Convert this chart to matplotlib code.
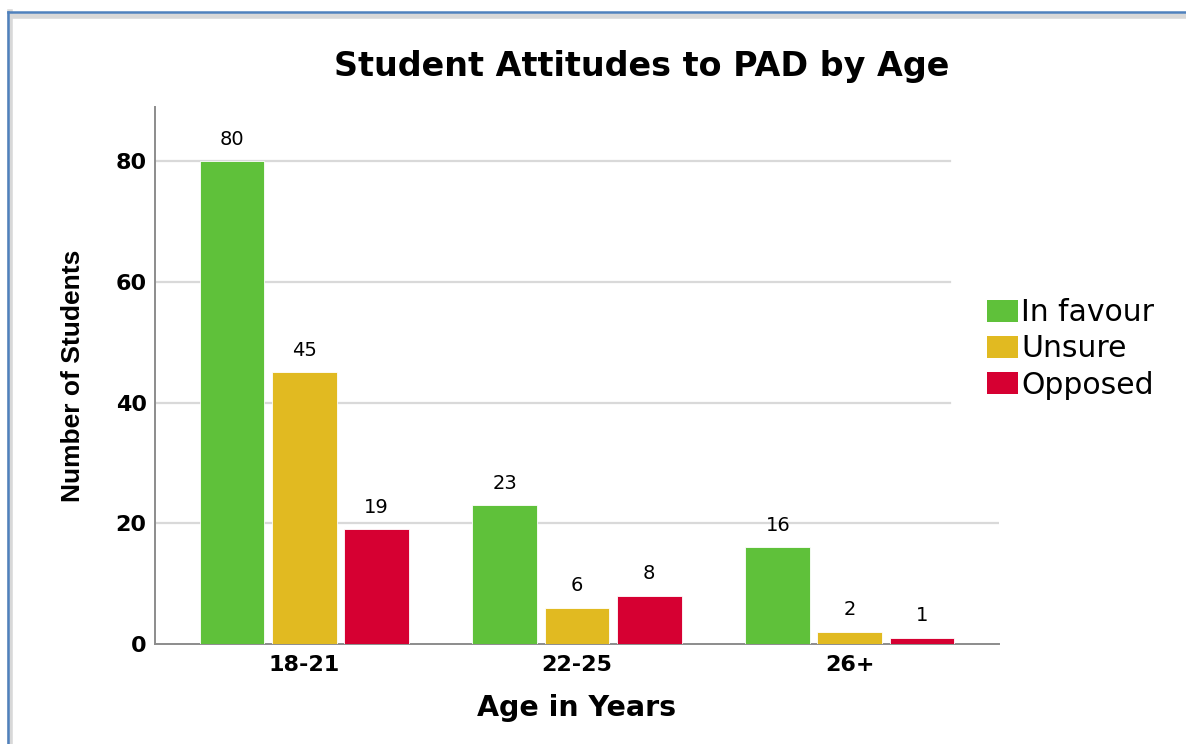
import matplotlib.pyplot as plt
import numpy as np
from matplotlib.lines import Line2D
from matplotlib.patches import Patch
from matplotlib.font_manager import FontProperties

# the screenshot is stretched sideways, DejaVu's wider glyphs get closer to it
plt.rcParams['font.family'] = ['DejaVu Sans']

# data
age_groups = ['18-21', '22-25', '26+']
in_favour = [80, 23, 16]
unsure = [45, 6, 2]
opposed = [19, 8, 1]
series_names = ['In favour', 'Unsure', 'Opposed']
colors = ['#5FC13A', '#E1BA21', '#D60032']

fig = plt.figure(figsize=(11.86, 7.44), dpi=100)
ax = fig.add_axes([0.1307, 0.1344, 0.7116, 0.7218])

x = np.arange(len(age_groups))
width = 0.238
step = 0.264
all_series = [in_favour, unsure, opposed]
for i, (vals, col) in enumerate(zip(all_series, colors)):
    pos = x + (i - 1) * step
    ax.bar(pos, vals, width, color=col, zorder=3, edgecolor='white', linewidth=0.6)
    for p, v in zip(pos, vals):
        ax.annotate(str(v), (p, v), xytext=(0, 9), textcoords='offset points',
                    ha='center', va='bottom', fontsize=14)

ax.set_xlim(-0.546, 2.546)
ax.set_ylim(0, 89)

# gridlines (SPSS stops the upper ones short of the legend)
for yv in [20, 40, 60, 80]:
    xmax = 1.0 if yv == 20 else (2.366 + 0.546) / 3.092
    ax.axhline(yv, xmin=0, xmax=xmax, color='#d9d9d9', linewidth=1.6, zorder=1)

for s in ['top', 'right']:
    ax.spines[s].set_visible(False)
for s in ['left', 'bottom']:
    ax.spines[s].set_color('#8c8c8c')
    ax.spines[s].set_linewidth(1.4)

ax.set_yticks([0, 20, 40, 60, 80])
ax.set_xticks(x)
ax.set_xticklabels(age_groups, fontsize=16, fontweight='bold')
for t in ax.get_yticklabels():
    t.set_fontsize(16)
    t.set_fontweight('bold')
ax.tick_params(length=0)
ax.tick_params(axis='x', pad=8)
ax.tick_params(axis='y', pad=6)

ax.set_xlabel('Age in Years', fontsize=20.5, fontweight='bold')
ax.xaxis.set_label_coords(0.5, -0.094)
ylab_font = FontProperties(family='Liberation Sans', weight='bold', size=19)
ax.set_ylabel('Number of Students', fontproperties=ylab_font)
ax.yaxis.set_label_coords(-0.083, 0.5)
fig.text(0.5413, 0.911, 'Student Attitudes to PAD by Age', ha='center', va='center',
         fontsize=24, fontweight='bold')

handles = [Patch(facecolor=c, edgecolor='none') for c in colors]
fig.legend(handles, series_names, loc='center left', bbox_to_anchor=(0.8322, 0.531),
           frameon=False, fontsize=21.5, handlelength=1.05, handleheight=0.78,
           handletextpad=0.1, labelspacing=0.24, borderpad=0, borderaxespad=0)

# window frame with shadow
fig.add_artist(Line2D([0.0085, 0.0085], [0, 0.984], color='#d8d8d8', linewidth=4, transform=fig.transFigure))
fig.add_artist(Line2D([0.0085, 1], [0.979, 0.979], color='#d8d8d8', linewidth=4, transform=fig.transFigure))
fig.add_artist(Line2D([0.0068, 0.0068], [0, 0.984], color='#4f81bd', linewidth=1.8, transform=fig.transFigure))
fig.add_artist(Line2D([0.0068, 1], [0.984, 0.984], color='#4f81bd', linewidth=1.8, transform=fig.transFigure))

fig.savefig('out.png', dpi=100)
